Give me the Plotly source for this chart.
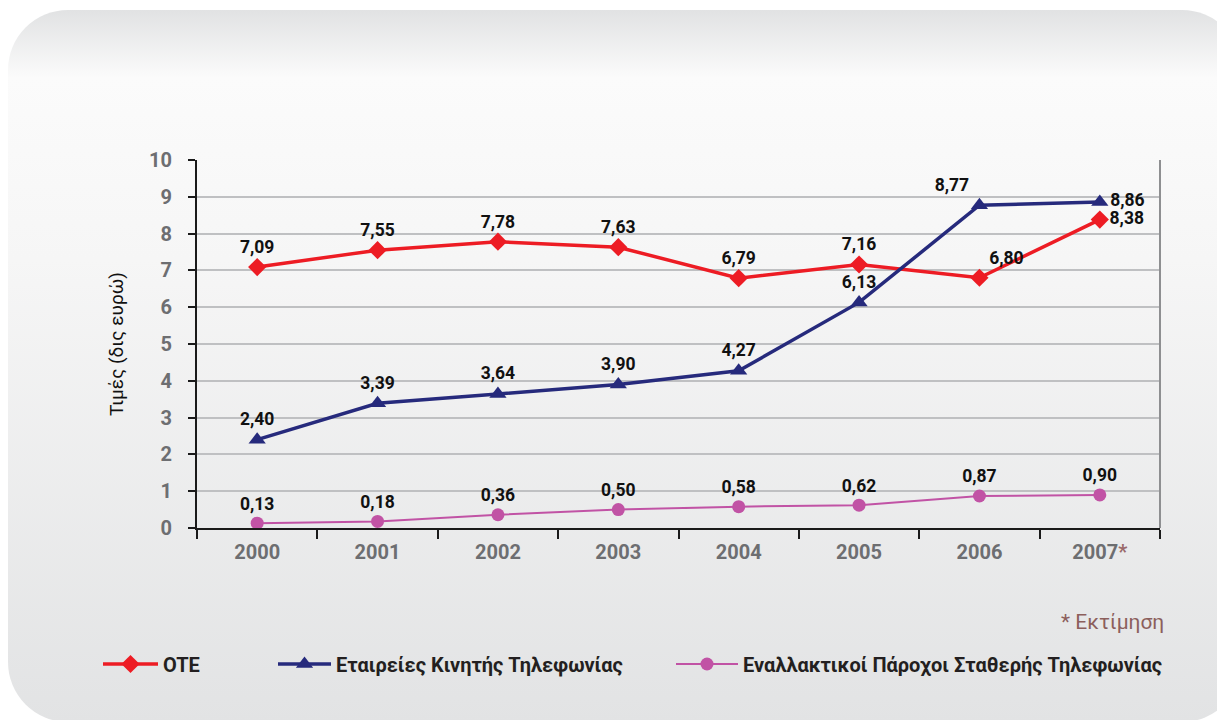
import base64
import plotly.graph_objects as go

years = ["2000", "2001", "2002", "2003", "2004", "2005", "2006", "2007"]
year_labels = ["2000", "2001", "2002", "2003", "2004", "2005", "2006",
               "2007<span style='color:#9a6a6a'>*</span>"]
ote = [7.09, 7.55, 7.78, 7.63, 6.79, 7.16, 6.80, 8.38]
mobile = [2.40, 3.39, 3.64, 3.90, 4.27, 6.13, 8.77, 8.86]
alt = [0.13, 0.18, 0.36, 0.50, 0.58, 0.62, 0.87, 0.90]
names = ["OTE", "Εταιρείες Κινητής Τηλεφωνίας", "Εναλλακτικοί Πάροχοι Σταθερής Τηλεφωνίας"]

ote_pos = ["top center"] * 6 + ["top right", "middle right"]
mob_pos = ["top center"] * 6 + ["top left", "middle right"]
alt_pos = ["top center"] * 8

def fmt(v):
    return [f"{x:.2f}".replace(".", ",") for x in v]

# page offset caused by the default body margin
OFF = 8
W, H = 1225 - OFF, 720 - OFF
ML, MT = 197 - OFF, 160 - OFF
MR = W - (1160 - OFF)
MB = H - (528 - OFF)
PW, PH = W - ML - MR, H - MT - MB

svg = f"""<svg xmlns='http://www.w3.org/2000/svg' width='{W}' height='{H}' viewBox='0 0 {W} {H}' preserveAspectRatio='none'>
<defs><linearGradient id='g' x1='0' y1='0' x2='0' y2='1'>
<stop offset='0' stop-color='#e1e2e3'/>
<stop offset='0.095' stop-color='#fbfbfb'/>
<stop offset='0.35' stop-color='#f6f6f6'/>
<stop offset='1' stop-color='#e2e3e4'/>
</linearGradient></defs>
<rect x='{8 - OFF}' y='{10 - OFF}' width='1234' height='712' rx='60' ry='60' fill='url(#g)'/>
</svg>"""
src = "data:image/svg+xml;base64," + base64.b64encode(svg.encode()).decode()

label_font = dict(family="Roboto", size=17.5, color="#111111", weight="bold")

fig = go.Figure()
fig.add_trace(go.Scatter(
    x=years, y=ote, name=names[0], mode="lines+markers+text",
    line=dict(color="#ed1c24", width=3.5),
    marker=dict(symbol="diamond", size=14, color="#ed1c24"),
    text=fmt(ote), textposition=ote_pos, textfont=label_font, legend="legend"))
fig.add_trace(go.Scatter(
    x=years, y=mobile, name=names[1], mode="lines+markers+text",
    line=dict(color="#262a7c", width=3.5),
    marker=dict(symbol="triangle-up", size=15, color="#262a7c"),
    text=fmt(mobile), textposition=mob_pos, textfont=label_font, legend="legend2"))
fig.add_trace(go.Scatter(
    x=years, y=alt, name=names[2], mode="lines+markers+text",
    line=dict(color="#c153a5", width=2),
    marker=dict(symbol="circle", size=13, color="#c153a5"),
    text=fmt(alt), textposition=alt_pos, textfont=label_font, legend="legend3"))

def px(xp):
    return (xp - OFF - ML) / PW

def py(yp):
    return (H - MB - (yp - OFF)) / PH

legfont = dict(family="Roboto", size=20, color="#231f20", weight="bold")
leg_common = dict(orientation="h", xanchor="left", yanchor="middle",
                  bgcolor="rgba(0,0,0,0)", font=legfont)

tickfont = dict(family="Roboto", size=20, color="#6d6e71", weight="bold")

fig.update_layout(
    width=W, height=H,
    margin=dict(l=ML, r=MR, t=MT, b=MB, autoexpand=False),
    paper_bgcolor="white", plot_bgcolor="rgba(0,0,0,0)",
    showlegend=True,
    legend=dict(x=px(98), y=py(664), itemwidth=55, **leg_common),
    legend2=dict(x=px(273), y=py(664), itemwidth=53, **leg_common),
    legend3=dict(x=px(671), y=py(664), itemwidth=62, **leg_common),
    images=[dict(source=src, xref="paper", yref="paper",
                 x=-ML / PW, y=(H - MB) / PH, sizex=W / PW, sizey=H / PH,
                 xanchor="left", yanchor="top", sizing="stretch", layer="below")],
    xaxis=dict(type="category", categoryorder="array", categoryarray=years,
               tickvals=years, ticktext=year_labels, range=[-0.5, 7.5],
               showline=True, linecolor="#1a1a1a", linewidth=2,
               ticks="outside", tickson="boundaries", ticklen=9, tickwidth=1.5,
               tickcolor="#1a1a1a", showgrid=False, ticklabelstandoff=5,
               tickfont=tickfont),
    yaxis=dict(range=[0, 10], dtick=1, tick0=0,
               showline=True, linecolor="#1a1a1a", linewidth=2,
               ticks="outside", ticklen=7, tickwidth=1.5, tickcolor="#1a1a1a",
               showgrid=True, gridcolor="#bfc0c2", gridwidth=2, zeroline=False,
               ticklabelstandoff=12, tickfont=tickfont,
               title=dict(text="Τιμές (δις ευρώ)", standoff=20,
                          font=dict(family="Roboto", size=19, color="#111111"))),
    shapes=[dict(type="line", xref="x domain", yref="y domain",
                 x0=1, x1=1, y0=0, y1=1, line=dict(color="#8e8f91", width=2))],
    annotations=[dict(text="* Εκτίμηση", xref="paper", yref="paper",
                      x=px(1166), y=py(622), xanchor="right", yanchor="middle",
                      showarrow=False,
                      font=dict(family="Roboto", size=21, color="#8c5f5c"))],
)

fig.write_html("out.html")
